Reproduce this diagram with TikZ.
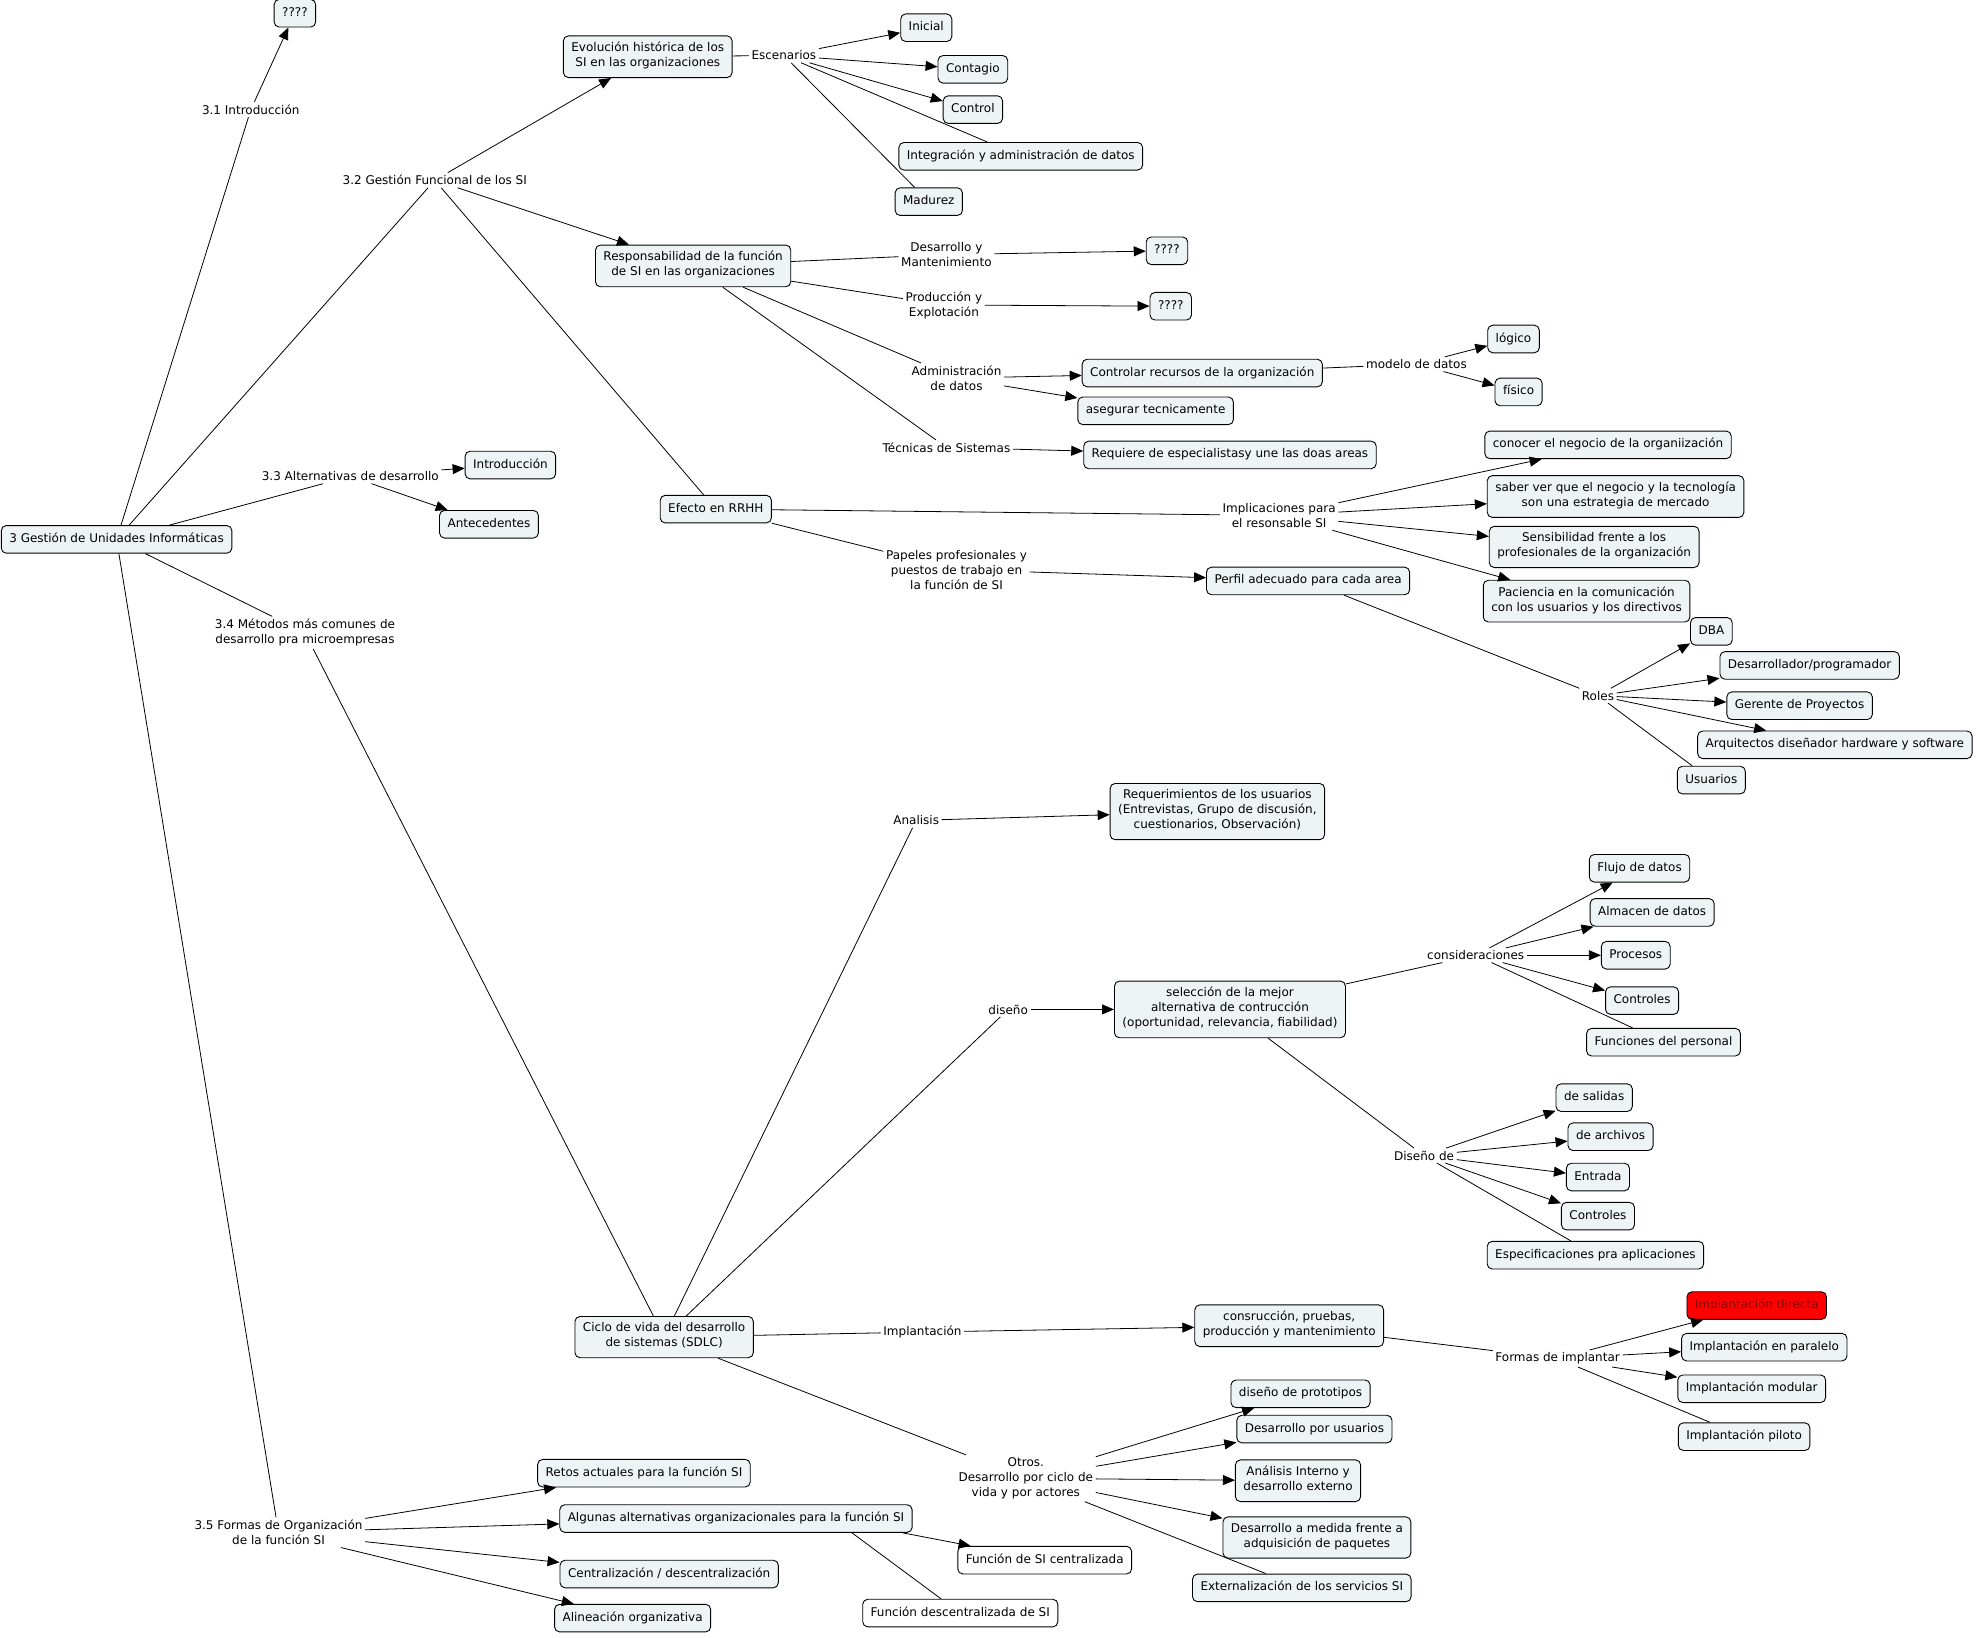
\documentclass[tikz,border=0pt]{standalone}
\usepackage{fontspec}
\setmainfont{DejaVu Sans}
\usetikzlibrary{arrows.meta,calc}
\definecolor{boxfill}{RGB}{238,243,245}
\definecolor{cmapdarkred}{RGB}{140,0,0}
\begin{document}
\begin{tikzpicture}[x=1.26pt,y=-1.26pt,
  every node/.style={font=\fontsize{12}{15}\selectfont, align=center},
  concept/.style={draw=black, line width=0.9pt, rounded corners=5pt, fill=boxfill,
    inner xsep=8pt, inner ysep=6.3pt, execute at begin node=\strut, execute at end node=\strut},
  wconcept/.style={concept, fill=white},
  redconcept/.style={concept, fill=red, text=cmapdarkred},
  link/.style={inner sep=2.5pt},
  ln/.style={line width=0.8pt},
  ar/.style={line width=0.8pt, -{Triangle[length=12pt,width=10pt]}},
]
\fill[white] (0,0) rectangle (1568,1299);
\useasboundingbox (0,0) rectangle (1568,1299);

% concepts
\node[concept] (q1) at (234,10.5) {????};
\node[concept] (evol) at (514,45) {Evolución histórica de los\\SI en las organizaciones};
\node[concept] (inicial) at (735,22) {Inicial};
\node[concept] (contagio) at (772,55) {Contagio};
\node[concept] (control) at (772,87) {Control};
\node[concept] (integ) at (810,124) {Integración y administración de datos};
\node[concept] (madurez) at (737,160) {Madurez};
\node[concept] (resp) at (550,211) {Responsabilidad de la función\\de SI en las organizaciones};
\node[concept] (q2) at (926,199) {????};
\node[concept] (q3) at (929,243) {????};
\node[concept] (ctrlrec) at (954,296) {Controlar recursos de la organización};
\node[concept] (aseg) at (917,326) {asegurar tecnicamente};
\node[concept] (logico) at (1201,269) {lógico};
\node[concept] (fisico) at (1205,311) {físico};
\node[concept] (requiere) at (976,361) {Requiere de especialistasy une las doas areas};
\node[concept] (rrhh) at (568,404) {Efecto en RRHH};
\node[concept] (conocer) at (1276,353) {conocer el negocio de la organiización};
\node[concept] (saber) at (1282,394) {saber ver que el negocio y la tecnología\\son una estrategia de mercado};
\node[concept] (sensib) at (1265,434) {Sensibilidad frente a los\\profesionales de la organización};
\node[concept] (pacien) at (1259,477) {Paciencia en la comunicación\\con los usuarios y los directivos};
\node[concept] (perfil) at (1038,461) {Perfil adecuado para cada area};
\node[concept] (dba) at (1358,501) {DBA};
\node[concept] (desprog) at (1436,528) {Desarrollador/programador};
\node[concept] (gerente) at (1428,560) {Gerente de Proyectos};
\node[concept] (arquit) at (1456,591) {Arquitectos diseñador hardware y software};
\node[concept] (usuarios) at (1358,619) {Usuarios};
\node[concept] (gestion) at (92.5,428) {3 Gestión de Unidades Informáticas};
\node[concept] (intro) at (405,369) {Introducción};
\node[concept] (antec) at (388,416) {Antecedentes};
\node[concept] (requs) at (966,644) {Requerimientos de los usuarios\\(Entrevistas, Grupo de discusión,\\cuestionarios, Observación)};
\node[concept] (selec) at (976,801) {selección de la mejor\\alternativa de contrucción\\(oportunidad, relevancia, fiabilidad)};
\node[concept] (flujo) at (1301,689) {Flujo de datos};
\node[concept] (almacen) at (1311,724) {Almacen de datos};
\node[concept] (procesos) at (1298,758) {Procesos};
\node[concept] (contr1) at (1303,794) {Controles};
\node[concept] (funcper) at (1320,827) {Funciones del personal};
\node[concept] (salidas) at (1265,871) {de salidas};
\node[concept] (archivos) at (1278,902) {de archivos};
\node[concept] (entrada) at (1268,934) {Entrada};
\node[concept] (contr2) at (1268,965) {Controles};
\node[concept] (especif) at (1266,996) {Especificaciones pra aplicaciones};
\node[concept] (sdlc) at (527,1061) {Ciclo de vida del desarrollo\\de sistemas (SDLC)};
\node[concept] (consr) at (1023,1052) {consrucción, pruebas,\\producción y mantenimiento};
\node[redconcept] (directa) at (1394,1036) {Implantación directa};
\node[concept] (paralelo) at (1400,1069) {Implantación en paralelo};
\node[concept] (modular) at (1390,1102) {Implantación modular};
\node[concept] (piloto) at (1384,1140) {Implantación piloto};
\node[concept] (protot) at (1032,1106) {diseño de prototipos};
\node[concept] (desusu) at (1043,1134) {Desarrollo por usuarios};
\node[concept] (anaint) at (1030,1175) {Análisis Interno y\\desarrollo externo};
\node[concept] (medida) at (1045,1220) {Desarrollo a medida frente a\\adquisición de paquetes};
\node[concept] (extern) at (1033,1260) {Externalización de los servicios SI};
\node[concept] (retos) at (511,1169) {Retos actuales para la función SI};
\node[concept] (algunas) at (584,1205) {Algunas alternativas organizacionales para la función SI};
\node[concept] (centr) at (531,1249) {Centralización / descentralización};
\node[concept] (alinea) at (502,1284) {Alineación organizativa};
\node[wconcept] (fcent) at (829,1238) {Función de SI centralizada};
\node[wconcept] (fdesc) at (762,1280) {Función descentralizada de SI};

% linking phrases
\node[link] (l31) at (199,87) {3.1 Introducción};
\node[link] (l32) at (345,143) {3.2 Gestión Funcional de los SI};
\node[link] (escen) at (622,44) {Escenarios};
\node[link] (desmant) at (751,202) {Desarrollo y\\Mantenimiento};
\node[link] (prodexp) at (749,242) {Producción y\\Explotación};
\node[link] (admdat) at (759,300) {Administración\\de datos};
\node[link] (tecsis) at (751,355) {Técnicas de Sistemas};
\node[link] (modelo) at (1124,289) {modelo de datos};
\node[link] (implic) at (1015,409) {Implicaciones para\\el resonsable SI};
\node[link] (papeles) at (759,452) {Papeles profesionales y\\puestos de trabajo en\\la función de SI};
\node[link] (roles) at (1268,552) {Roles};
\node[link] (l33) at (278,378) {3.3 Alternativas de desarrollo};
\node[link] (l34) at (242,502) {3.4 Métodos más comunes de\\desarrollo pra microempresas};
\node[link] (l35) at (221,1216) {3.5 Formas de Organización\\de la función SI};
\node[link] (analisis) at (727,651) {Analisis};
\node[link] (disenio) at (800,801) {diseño};
\node[link] (consid) at (1171,758) {consideraciones};
\node[link] (disde) at (1130,917) {Diseño de};
\node[link] (implant) at (732,1057) {Implantación};
\node[link] (formas) at (1236,1078) {Formas de implantar};
\node[link] (otros) at (814,1173) {Otros.\\Desarrollo por ciclo de\\vida y por actores};

% connections from root
\draw[ln] (gestion) -- (l31); \draw[ar] (l31) -- (q1);
\draw[ln] (gestion) -- (l32);
\draw[ar] (l32) -- (evol);
\draw[ar] (l32) -- (resp);
\draw[ln] (l32) -- (rrhh);
\draw[ln] (gestion) -- (l33); \draw[ar] (l33) -- (intro); \draw[ar] (l33) -- (antec);
\draw[ln] (gestion) -- (l34); \draw[ln] (l34) -- (sdlc);
\draw[ln] (gestion) -- (l35);
\draw[ar] (l35) -- (retos); \draw[ar] (l35) -- (algunas);
\draw[ar] (l35) -- (centr); \draw[ar] (l35) -- (alinea);

% evolución
\draw[ln] (evol) -- (escen);
\draw[ar] (escen) -- (inicial); \draw[ar] (escen) -- (contagio); \draw[ar] (escen) -- (control);
\draw[ln] (escen) -- (integ); \draw[ln] (escen) -- (madurez);

% responsabilidad
\draw[ln] (resp) -- (desmant); \draw[ar] (desmant) -- (q2);
\draw[ln] (resp) -- (prodexp); \draw[ar] (prodexp) -- (q3);
\draw[ln] (resp) -- (admdat); \draw[ar] (admdat) -- (ctrlrec); \draw[ar] (admdat) -- (aseg);
\draw[ln] (resp) -- (tecsis); \draw[ar] (tecsis) -- (requiere);
\draw[ln] (ctrlrec) -- (modelo); \draw[ar] (modelo) -- (logico); \draw[ar] (modelo) -- (fisico);

% RRHH
\draw[ln] (rrhh) -- (implic);
\draw[ar] (implic) -- (conocer); \draw[ar] (implic) -- (saber);
\draw[ar] (implic) -- (sensib); \draw[ar] (implic) -- (pacien);
\draw[ln] (rrhh) -- (papeles); \draw[ar] (papeles) -- (perfil);
\draw[ln] (perfil) -- (roles);
\draw[ar] (roles) -- (dba); \draw[ar] (roles) -- (desprog);
\draw[ar] (roles) -- (gerente); \draw[ar] (roles) -- (arquit);
\draw[ln] (roles) -- (usuarios);

% SDLC
\draw[ln] (sdlc) -- (analisis); \draw[ar] (analisis) -- (requs);
\draw[ln] (sdlc) -- (disenio); \draw[ar] (disenio) -- (selec);
\draw[ln] (selec) -- (consid);
\draw[ar] (consid) -- (flujo); \draw[ar] (consid) -- (almacen);
\draw[ar] (consid) -- (procesos); \draw[ar] (consid) -- (contr1);
\draw[ln] (consid) -- (funcper);
\draw[ln] (selec) -- (disde);
\draw[ar] (disde) -- (salidas); \draw[ar] (disde) -- (archivos);
\draw[ar] (disde) -- (entrada); \draw[ar] (disde) -- (contr2);
\draw[ln] (disde) -- (especif);
\draw[ln] (sdlc) -- (implant); \draw[ar] (implant) -- (consr);
\draw[ln] (consr) -- (formas);
\draw[ar] (formas) -- (directa); \draw[ar] (formas) -- (paralelo); \draw[ar] (formas) -- (modular);
\draw[ln] (formas) -- (piloto);
\draw[ln] (sdlc) -- (otros);
\draw[ar] (otros) -- (protot); \draw[ar] (otros) -- (desusu);
\draw[ar] (otros) -- (anaint); \draw[ar] (otros) -- (medida);
\draw[ln] (otros) -- (extern);

% alternativas organizacionales
\draw[ar] ($(algunas.south east)+(-8,0)$) -- (fcent);
\draw[ln] ($(algunas.south)+(92,0)$) -- (fdesc);
\end{tikzpicture}
\end{document}
